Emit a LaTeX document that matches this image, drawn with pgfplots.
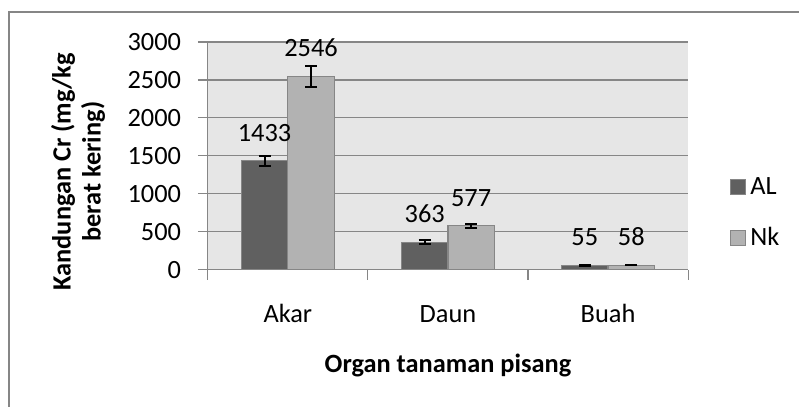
\documentclass[border=0pt]{standalone}
\usepackage{fontspec}
\setmainfont{Carlito}
\usepackage{pgfplots}
\pgfplotsset{compat=1.18}
\definecolor{barAL}{RGB}{96,96,96}
\definecolor{barNk}{RGB}{178,178,178}
\definecolor{plotbg}{RGB}{230,230,230}
\definecolor{gridgray}{RGB}{134,134,134}
\definecolor{framegray}{RGB}{134,134,134}

\begin{document}
\begin{tikzpicture}[font=\fontsize{13.2}{15.8}\selectfont]
\begin{axis}[
  scale only axis,
  width=240.5pt,
  height=114pt,
  ybar=0pt,
  bar width=23.25pt,
  xmin=-0.5, xmax=2.5,
  ymin=0, ymax=3000,
  ytick={0,500,...,3000},
  xtick={0,1,2},
  xticklabels={Akar,Daun,Buah},
  minor xtick={-0.5,0.5,1.5,2.5},
  major x tick style={draw=none},
  tick align=outside,
  major tick length=5pt,
  minor tick length=5pt,
  tick style={gridgray, line width=0.6pt},
  axis x line*=bottom,
  axis y line*=left,
  axis line style={gridgray, line width=0.6pt},
  ymajorgrids,
  major grid style={gridgray, line width=0.6pt},
  axis background/.style={fill=plotbg},
  /pgf/number format/1000 sep={},
  /pgf/number format/assume math mode=true,
  yticklabel style={anchor=east, inner sep=0pt, xshift=-8.2pt},
  xticklabel style={anchor=base, inner sep=0pt, yshift=-21.2pt},
  xlabel={Organ tanaman pisang},
  xlabel style={font=\fontsize{13.2}{15.8}\selectfont\bfseries, at={(axis description cs:0.5,0)}, anchor=base, yshift=-51.5pt},
  ylabel={Kandungan Cr (mg/kg\\berat kering)},
  ylabel style={font=\fontsize{13.2}{15}\selectfont\bfseries, align=center, at={(axis description cs:-0.27,0.43)}, anchor=center},
  nodes near coords,
  every node near coord/.append style={inner sep=0pt, anchor=south, yshift=9.5pt, black},
  legend style={draw=none, fill=none, at={(axis description cs:1.087,0.25)}, anchor=west, inner xsep=0pt, row sep=11pt, legend cell align=left},
  legend image code/.code={\draw[#1, line width=0.5pt] (0pt,-3.75pt) rectangle (7.5pt,3.75pt);},
  error bars/error bar style={black, line width=1pt},
  error bars/error mark options={rotate=90, mark size=3pt, line width=1pt, black},
]
\addplot[fill=barAL, draw=gridgray, line width=0.6pt,
  error bars/.cd, y dir=both, y explicit]
  coordinates {(0,1433) +- (0,70) (1,363) +- (0,24) (2,55) +- (0,3)};
\addplot[fill=barNk, draw=gridgray, line width=0.6pt,
  error bars/.cd, y dir=both, y explicit]
  coordinates {(0,2546) +- (0,138) (1,577) +- (0,28) (2,58) +- (0,3)};
\legend{AL,Nk}
\end{axis}
\draw[framegray, line width=1pt] (-99.5pt,-68.5pt) -- (-99.5pt,129pt) -- (296pt,129pt);
\path[use as bounding box] (-104pt,-68.5pt) rectangle (296pt,135pt);
\end{tikzpicture}
\end{document}
